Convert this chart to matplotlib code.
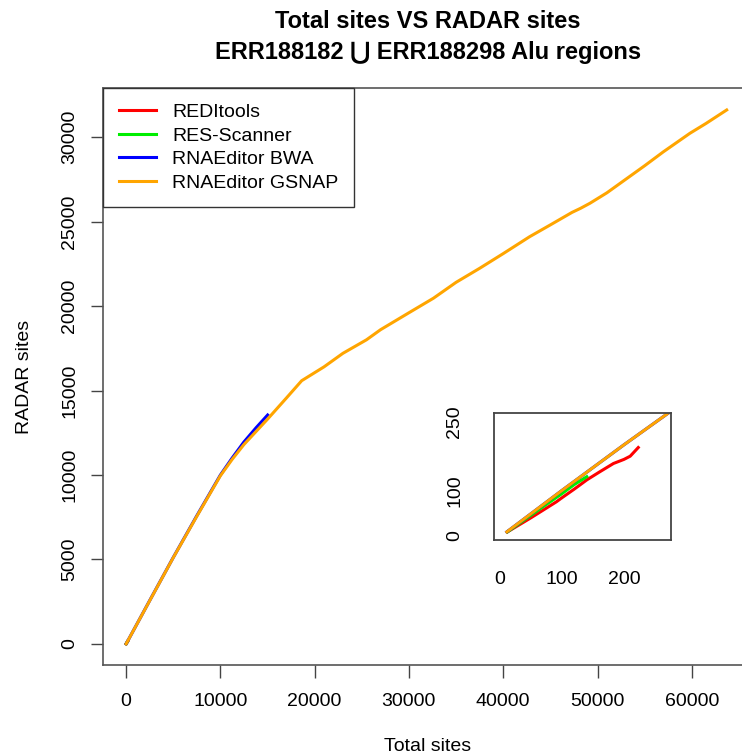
import matplotlib.pyplot as plt

plt.rcParams['font.family'] = ['Liberation Sans', 'DejaVu Sans']

# --- data (total sites vs RADAR sites) ---
red_x = [12, 50, 91, 99, 120, 140, 160, 183, 200, 210, 223]
red_y = [9, 40, 75, 83, 103, 123, 140, 159, 168, 175, 194]

green_x = [12, 40, 65, 100, 120, 140]
green_y = [9, 36, 60, 93, 113, 130]

blue_x = [11, 100, 200, 274, 2500, 5000, 7500, 10000, 11250, 12500, 13800, 15020]
blue_y = [9, 100, 200, 272, 2560, 5110, 7580, 9990, 11000, 11950, 12800, 13550]

orange_x = [11, 100, 200, 274, 2500, 5000, 7500, 10000, 11250, 12500, 15000, 17000, 18630,
            21000, 23000, 25500, 27000, 30000, 32600, 35000, 37500, 40000, 42800,
            45000, 47300, 48200, 49200, 51000, 52900, 55000, 57000, 59800, 61500, 63700]
orange_y = [9, 100, 200, 272, 2550, 5100, 7550, 9950, 10920, 11800, 13300, 14550, 15580,
            16400, 17200, 18000, 18600, 19600, 20460, 21400, 22230, 23100, 24100,
            24800, 25540, 25780, 26080, 26700, 27460, 28300, 29130, 30220, 30800, 31600]

series = [
    ("REDItools", red_x, red_y, "#ff0000"),
    ("RES-Scanner", green_x, green_y, "#00ee00"),
    ("RNAEditor BWA", blue_x, blue_y, "#0000ff"),
    ("RNAEditor GSNAP", orange_x, orange_y, "#ffa500"),
]

fig = plt.figure(figsize=(7.42, 7.56), dpi=100)
ax = fig.add_axes([103 / 742, 1 - 665 / 756, 650 / 742, 577 / 756])

for name, xs, ys, col in series:
    ax.plot(xs, ys, color=col, lw=2.2, label=name)

ax.set_xlim(-2440, 66490)
ax.set_ylim(-1243, 32900)
ax.set_xticks([0, 10000, 20000, 30000, 40000, 50000, 60000])
ax.set_yticks([0, 5000, 10000, 15000, 20000, 25000, 30000])
ax.tick_params(axis='both', length=9, width=1, color='#444444', labelsize=14, pad=11)
ax.tick_params(axis='y', labelrotation=90, pad=9)
for lab in ax.get_yticklabels():
    lab.set_va('center')
for s in ['left', 'bottom', 'top']:
    ax.spines[s].set_color('#555555')
    ax.spines[s].set_linewidth(1.2)
ax.spines['right'].set_visible(False)

ax.set_xlabel("Total sites", fontsize=14, labelpad=20)
ax.set_ylabel("RADAR sites", fontsize=14, labelpad=20)

fig.text(428 / 742, 1 - 22 / 756, "Total sites VS RADAR sites", ha='center', va='center',
         fontsize=17, fontweight='bold')
fig.text(428 / 742, 1 - 53 / 756, "ERR188182 \u22c3 ERR188298 Alu regions", ha='center',
         va='center', fontsize=17, fontweight='bold')

leg = ax.legend(loc='upper left', bbox_to_anchor=(0, 1), borderaxespad=0, fontsize=14,
                fancybox=False, edgecolor='#333333', framealpha=1, handlelength=1.95,
                handletextpad=0.8, labelspacing=0.3, borderpad=0.8)
leg.get_frame().set_linewidth(1.0)

# inset zoom on the first few hundred sites
ins = fig.add_axes([494 / 742, 1 - 540 / 756, 177 / 742, 127 / 756])
for name, xs, ys, col in series:
    ins.plot(xs, ys, color=col, lw=2.2)
ins.set_xlim(-9.7, 275.8)
ins.set_ylim(-8.8, 269.7)
ins.set_xticks([0, 100, 200])
ins.set_yticks([0, 100, 250])
ins.tick_params(axis='both', length=0, labelsize=14, pad=22)
ins.tick_params(axis='y', labelrotation=90, pad=22)
for lab in ins.get_yticklabels():
    lab.set_va('center')
for s in ins.spines.values():
    s.set_color('#444444')
    s.set_linewidth(1.3)

fig.savefig("out.png", dpi=100)
